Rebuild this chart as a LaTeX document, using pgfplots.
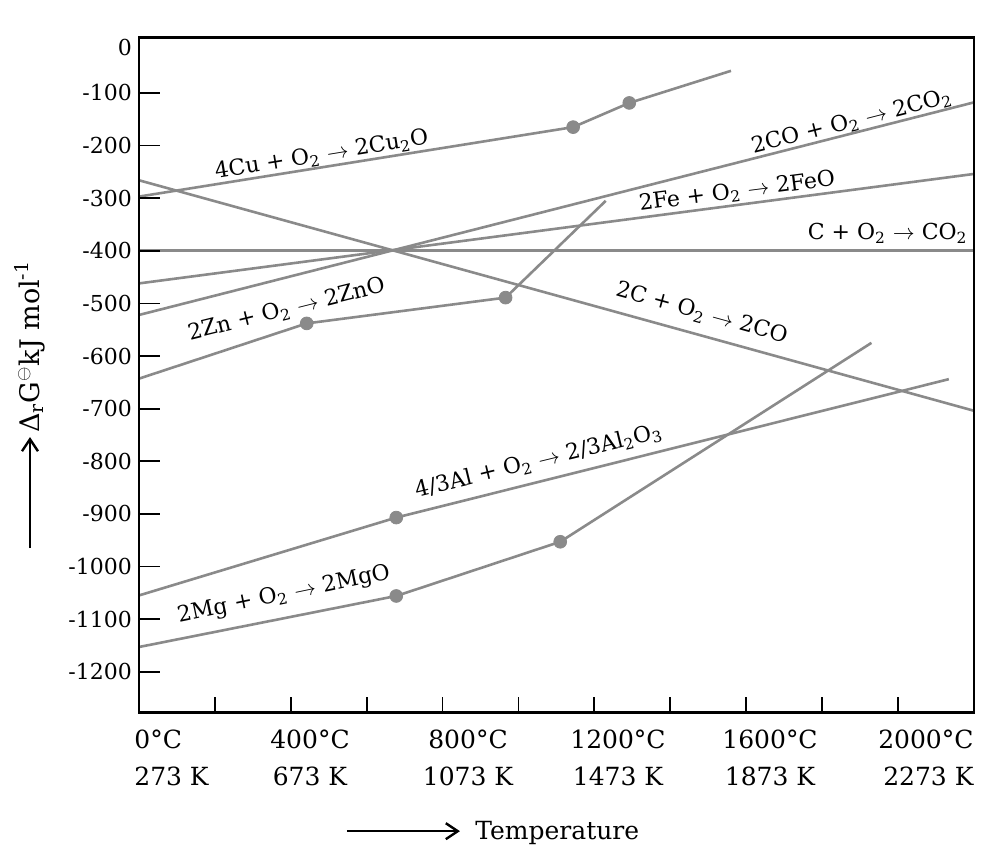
\documentclass[border=0pt]{standalone}
\usepackage{fontspec}
\setmainfont{DejaVu Serif}
\usepackage{pgfplots}
\pgfplotsset{compat=1.18}
\usetikzlibrary{arrows.meta}

\definecolor{linegray}{RGB}{138,138,138}
\newcommand{\sub}[1]{\textsubscript{#1}}
\newcommand{\lbl}{\fontsize{11}{13}\selectfont}
\newcommand{\xlbl}{\fontsize{12.5}{15}\selectfont}
\tikzset{gl/.style={linegray, line width=1.3pt, mark=none},
         gd/.style={linegray, only marks, mark=*, mark size=3.2pt}}

\begin{document}
\begin{tikzpicture}
\begin{axis}[
  scale only axis,
  width=417.5pt, height=337.85pt,
  xmin=0, xmax=11, ymin=-1278, ymax=6,
  axis on top,
  clip=false,
  axis line style={line width=1.4pt, black},
  xtick={1,...,10}, xticklabels={},
  xtick pos=lower, ytick pos=lower,
  xtick style={/pgfplots/major tick length=8pt, line width=0.9pt, black},
  ytick style={/pgfplots/major tick length=10.5pt, line width=0.9pt, black},
  ytick={-1200,-1100,...,-100},
  yticklabels={-1200,-1100,-1000,-900,-800,-700,-600,-500,-400,-300,-200,-100},
  yticklabel style={font=\fontsize{11}{13}\selectfont},
]
% invisible frame giving the page its size
\path (axis cs:-1.831,76.6) rectangle (axis cs:11.265,-1548.9);

% Cu
\addplot[gl] coordinates {(0,-297) (5.72,-165) (6.46,-119) (7.80,-58)};
\addplot[gd] coordinates {(5.72,-165) (6.46,-119)};
% 2C -> 2CO
\addplot[gl] coordinates {(0,-266) (11,-704)};
% C -> CO2
\addplot[gl] coordinates {(0,-399) (11,-399)};
% Fe
\addplot[gl] coordinates {(0,-462) (11,-254)};
% CO -> CO2
\addplot[gl] coordinates {(0,-522) (11,-118)};
% Zn
\addplot[gl] coordinates {(0,-643) (2.21,-538) (4.83,-489) (6.15,-305)};
\addplot[gd] coordinates {(2.21,-538) (4.83,-489)};
% Al
\addplot[gl] coordinates {(0,-1055) (3.39,-907) (10.67,-644)};
\addplot[gd] coordinates {(3.39,-907)};
% Mg
\addplot[gl] coordinates {(0,-1153) (3.39,-1056) (5.55,-953) (9.65,-575)};
\addplot[gd] coordinates {(3.39,-1056) (5.55,-953)};

% line labels
\node[rotate=9.3, font=\lbl] at (axis cs:2.407,-218) {4Cu + O\sub{2} $\rightarrow$ 2Cu\sub{2}O};
\node[rotate=14.3, font=\lbl] at (axis cs:9.39,-155) {2CO + O\sub{2} $\rightarrow$ 2CO\sub{2}};
\node[rotate=7.4, font=\lbl] at (axis cs:7.88,-288) {2Fe + O\sub{2} $\rightarrow$ 2FeO};
\node[anchor=east, inner sep=0pt, font=\lbl] at (axis cs:10.92,-366) {C + O\sub{2} $\rightarrow$ CO\sub{2}};
\node[rotate=-15.4, font=\lbl] at (axis cs:7.414,-519) {2C + O\sub{2} $\rightarrow$ 2CO};
\node[rotate=14, font=\lbl] at (axis cs:1.946,-512) {2Zn + O\sub{2} $\rightarrow$ 2ZnO};
\node[rotate=13.7, font=\lbl] at (axis cs:5.264,-800) {4/3Al + O\sub{2} $\rightarrow$ 2/3Al\sub{2}O\sub{3}};
\node[rotate=11.8, font=\lbl] at (axis cs:1.91,-1054) {2Mg + O\sub{2} $\rightarrow$ 2MgO};

% zero label
\node[anchor=east, font=\fontsize{11}{13}\selectfont] at (axis cs:0,-13) {0};

% x labels
\node[anchor=base west, inner sep=0pt, font=\xlbl] at (axis cs:-0.066,-1345.4) {0°C};
\node[anchor=base west, inner sep=0pt, font=\xlbl] at (axis cs:-0.066,-1415.8) {273 K};
\node[anchor=base, inner sep=0pt, font=\xlbl] at (axis cs:2.253,-1345.4) {400°C};
\node[anchor=base, inner sep=0pt, font=\xlbl] at (axis cs:2.253,-1415.8) {673 K};
\node[anchor=base, inner sep=0pt, font=\xlbl] at (axis cs:4.335,-1345.4) {800°C};
\node[anchor=base, inner sep=0pt, font=\xlbl] at (axis cs:4.335,-1415.8) {1073 K};
\node[anchor=base, inner sep=0pt, font=\xlbl] at (axis cs:6.311,-1345.4) {1200°C};
\node[anchor=base, inner sep=0pt, font=\xlbl] at (axis cs:6.311,-1415.8) {1473 K};
\node[anchor=base, inner sep=0pt, font=\xlbl] at (axis cs:8.314,-1345.4) {1600°C};
\node[anchor=base, inner sep=0pt, font=\xlbl] at (axis cs:8.314,-1415.8) {1873 K};
\node[anchor=base east, inner sep=0pt, font=\xlbl] at (axis cs:11,-1345.4) {2000°C};
\node[anchor=base east, inner sep=0pt, font=\xlbl] at (axis cs:11,-1415.8) {2273 K};

% axis titles with arrows
\draw[black, line width=1.2pt, -{Straight Barb[length=6pt,width=8pt]}] (axis cs:2.74,-1503) -- (axis cs:4.229,-1503);
\node[anchor=base west, inner sep=0pt, font=\xlbl] at (axis cs:4.427,-1518.4) {Temperature};
\draw[black, line width=1.2pt, -{Straight Barb[length=6pt,width=8pt]}] (axis cs:-1.436,-965) -- (axis cs:-1.436,-754);
\node[rotate=90, anchor=west, inner sep=0pt, font=\fontsize{13.5}{16}\selectfont] at (axis cs:-1.436,-746.6) {Δ\textsubscript{r}G$^{\ominus}$kJ mol\textsuperscript{-1}};
\end{axis}
\end{tikzpicture}
\end{document}
